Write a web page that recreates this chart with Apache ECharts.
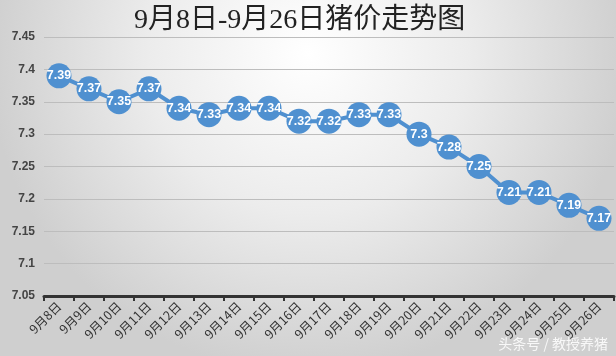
<!DOCTYPE html>
<html><head><meta charset="utf-8">
<script src="https://cdn.jsdelivr.net/npm/echarts@6/dist/echarts.min.js"></script>
<style>html,body{margin:0;padding:0;}#c{width:616px;height:356px;}</style>
</head><body><div id="c"></div>
<script>
var categories = ['9月8日','9月9日','9月10日','9月11日','9月12日','9月13日','9月14日','9月15日','9月16日','9月17日','9月18日','9月19日','9月20日','9月21日','9月22日','9月23日','9月24日','9月25日','9月26日'];
var prices = [7.39,7.37,7.35,7.37,7.34,7.33,7.34,7.34,7.32,7.32,7.33,7.33,7.3,7.28,7.25,7.21,7.21,7.19,7.17];
var titleText = '9月8日-9月26日猪价走势图';
var watermark = '头条号 / 教授养猪';

var chart = echarts.init(document.getElementById('c'), null, {renderer:'canvas'});
chart.setOption({
  backgroundColor: {type:'radial', x:0.5, y:0.15, r:0.9, colorStops:[{offset:0,color:'#ffffff'},{offset:0.5,color:'#ececec'},{offset:1,color:'#cfcfcf'}]},
  animation:false,
  graphic:[
    {type:'text', left:134, top:7, style:{text:titleText, fill:'#222', font:'28px "Liberation Serif", "Noto Sans CJK SC", serif'}},
    {type:'text', right:8, bottom:5, style:{text:watermark, fill:'rgba(255,255,255,0.85)', font:'14px "Noto Sans CJK SC"'}}
  ],
  grid:{left:44, right:2, top:37, bottom:60},
  xAxis:{type:'category', data:categories, boundaryGap:true,
    axisLine:{lineStyle:{color:'#333', width:3}},
    axisTick:{show:true, alignWithLabel:false, length:5, lineStyle:{color:'#333', width:2}},
    axisLabel:{rotate:45, fontSize:12.5, color:'#333', margin:8, interval:0, fontFamily:'"Noto Sans CJK SC", sans-serif'}},
  yAxis:{type:'value', min:7.05, max:7.45, interval:0.05,
    axisLine:{show:false}, axisTick:{show:false},
    axisLabel:{fontSize:12, fontWeight:'bold', color:'#444', margin:9, formatter:function(v){return String(+v.toFixed(2));}},
    splitLine:{lineStyle:{color:'#bdbdbd', width:1}}},
  series:[{type:'line', data:prices, symbol:'circle', symbolSize:25,
    itemStyle:{color:'#4f90d0'}, lineStyle:{color:'#4f90d0', width:4},
    label:{show:true, position:'inside', color:'#fff', fontSize:12.5, fontWeight:'bold', fontFamily:'"Liberation Sans Narrow", Arial, sans-serif'}}]
});
</script></body></html>
